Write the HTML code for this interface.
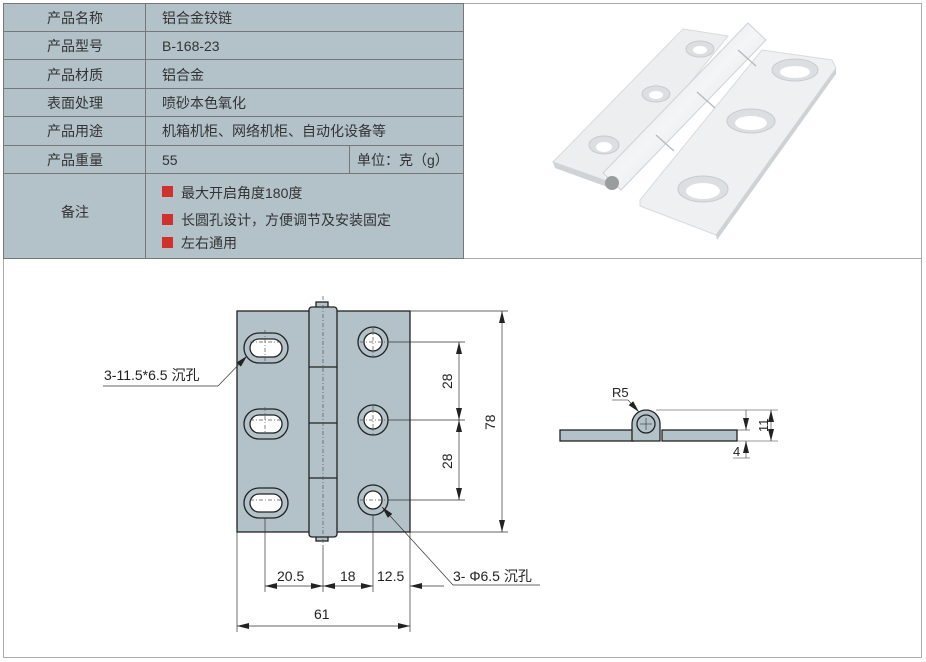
<!DOCTYPE html>
<html><head><meta charset="utf-8"><style>
body{margin:0;background:#fff;width:926px;height:662px;overflow:hidden;font-family:"Liberation Sans","Noto Sans CJK SC",sans-serif}
svg{position:absolute;left:0;top:0}
</style></head><body>
<svg width="926" height="662" viewBox="0 0 926 662" font-family="Liberation Sans, Noto Sans CJK SC, sans-serif">
<defs>
<marker id="a" markerWidth="12" markerHeight="6" refX="12" refY="3" orient="auto" markerUnits="userSpaceOnUse"><path d="M0,0 L12,3 L0,6Z" fill="#222"/></marker>
<marker id="b" markerWidth="12" markerHeight="6" refX="0" refY="3" orient="auto" markerUnits="userSpaceOnUse"><path d="M12,0 L0,3 L12,6Z" fill="#222"/></marker>
<linearGradient id="pg" x1="0" y1="0" x2="1" y2="1"><stop offset="0" stop-color="#d4d7da"/><stop offset="0.5" stop-color="#f4f5f6"/><stop offset="1" stop-color="#c9ccd0"/></linearGradient>
</defs>
<rect x="3.5" y="3.5" width="918" height="654" fill="none" stroke="#aaa"/>
<line x1="3" y1="258.5" x2="922" y2="258.5" stroke="#aaa"/>
<rect x="3.5" y="3.5" width="460" height="255" fill="#b3c1c9" stroke="#777"/>
<g stroke="#777" stroke-width="1">
<line x1="145.5" y1="3" x2="145.5" y2="258"/>
<line x1="3" y1="31.5" x2="463" y2="31.5"/>
<line x1="3" y1="59.5" x2="463" y2="59.5"/>
<line x1="3" y1="88.5" x2="463" y2="88.5"/>
<line x1="3" y1="116.5" x2="463" y2="116.5"/>
<line x1="3" y1="145.5" x2="463" y2="145.5"/>
<line x1="3" y1="173.5" x2="463" y2="173.5"/>
<line x1="349.5" y1="145" x2="349.5" y2="173"/>
</g>
<g font-size="14" fill="#333" text-anchor="middle">
<text x="75" y="23">产品名称</text><text x="75" y="51">产品型号</text><text x="75" y="80">产品材质</text>
<text x="75" y="108">表面处理</text><text x="75" y="136">产品用途</text><text x="75" y="165">产品重量</text>
<text x="75" y="217">备注</text>
</g>
<g font-size="14" fill="#333">
<text x="162" y="23">铝合金铰链</text><text x="162" y="51">B-168-23</text><text x="162" y="80">铝合金</text>
<text x="162" y="108">喷砂本色氧化</text><text x="162" y="136">机箱机柜、网络机柜、自动化设备等</text>
<text x="162" y="165">55</text><text x="357" y="165">单位：克（g）</text>
<text x="181" y="198">最大开启角度180度</text><text x="181" y="225">长圆孔设计，方便调节及安装固定</text><text x="181" y="248">左右通用</text>
</g>
<rect x="162" y="186" width="11" height="11" fill="#d0312d"/>
<rect x="162" y="214" width="11" height="11" fill="#d0312d"/>
<rect x="162" y="237" width="11" height="11" fill="#d0312d"/>
<!-- photo -->
<polygon points="553,162 683,29 728,36 610,182" fill="#eceef0" stroke="#d8dadc"/>
<polygon points="553,162 610,182 610,188 555,168" fill="#d0d3d6"/>
<polygon points="640,200 762,50 832,60 836,68 716,235 640,206" fill="#eef0f2" stroke="#d8dadc"/>
<polygon points="716,235 836,68 836,74 717,240" fill="#cfd2d5"/>
<polygon points="748,23 766,40 621,190 603,173" fill="url(#pg)" stroke="#cfd2d5"/>
<g stroke="#b8bcc0" stroke-width="1.5"><line x1="738" y1="50" x2="756" y2="66"/><line x1="697" y1="92" x2="715" y2="108"/><line x1="656" y1="135" x2="674" y2="151"/></g>
<circle cx="612" cy="183" r="7" fill="#9a9da0"/>
<g fill="#dcdfe2" stroke="#c8cbce"><ellipse cx="700" cy="49" rx="14" ry="8"/><ellipse cx="656" cy="94" rx="14" ry="8"/><ellipse cx="604" cy="145" rx="15" ry="9"/>
<ellipse cx="795" cy="70" rx="23" ry="11"/><ellipse cx="751" cy="121" rx="24" ry="12"/><ellipse cx="703" cy="189" rx="25" ry="13"/></g>
<g fill="#fff"><ellipse cx="700" cy="50" rx="7" ry="4"/><ellipse cx="656" cy="95" rx="7" ry="4"/><ellipse cx="604" cy="147" rx="8" ry="5"/>
<ellipse cx="795" cy="72" rx="15" ry="6"/><ellipse cx="751" cy="123" rx="16" ry="7"/><ellipse cx="703" cy="191" rx="17" ry="8"/></g>
<!-- front drawing -->
<g stroke="#222" stroke-width="1.3" fill="#b3c1c9">
<rect x="237" y="311" width="173" height="221"/>
<rect x="316" y="302" width="12" height="8"/>
<rect x="316" y="533" width="12" height="8"/>
<rect x="309" y="307" width="28" height="230" rx="3"/>
<line x1="309" y1="367" x2="337" y2="367"/><line x1="309" y1="423" x2="337" y2="423"/><line x1="309" y1="478" x2="337" y2="478"/>
</g>
<g stroke="#222" stroke-width="1.3">
<rect x="244" y="333" width="44" height="30" rx="15" fill="#b3c1c9"/><rect x="250" y="339" width="32" height="18" rx="9" fill="#fff"/>
<rect x="244" y="409" width="44" height="30" rx="15" fill="#b3c1c9"/><rect x="250" y="415" width="32" height="18" rx="9" fill="#fff"/>
<rect x="244" y="488" width="44" height="30" rx="15" fill="#b3c1c9"/><rect x="250" y="494" width="32" height="18" rx="9" fill="#fff"/>
<circle cx="373" cy="342" r="15" fill="#b3c1c9"/><circle cx="373" cy="342" r="9" fill="#fff"/>
<circle cx="373" cy="420" r="15" fill="#b3c1c9"/><circle cx="373" cy="420" r="9" fill="#fff"/>
<circle cx="373" cy="500" r="15" fill="#b3c1c9"/><circle cx="373" cy="500" r="9" fill="#fff"/>
</g>
<g stroke="#555" stroke-width="0.7" stroke-dasharray="4,2,1,2" fill="none">
<line x1="323" y1="296" x2="323" y2="545"/>
<line x1="250" y1="342" x2="282" y2="342"/><line x1="250" y1="420" x2="282" y2="420"/><line x1="250" y1="500" x2="282" y2="500"/>
<line x1="265" y1="330" x2="265" y2="366"/><line x1="265" y1="407" x2="265" y2="433"/>
<line x1="360" y1="342" x2="386" y2="342"/><line x1="373" y1="328" x2="373" y2="356"/>
<line x1="360" y1="420" x2="386" y2="420"/><line x1="373" y1="406" x2="373" y2="434"/>
<line x1="360" y1="500" x2="386" y2="500"/>
</g>
<g stroke="#333" stroke-width="0.7" fill="none">
<line x1="388" y1="342" x2="465" y2="342"/><line x1="388" y1="420" x2="465" y2="420"/><line x1="388" y1="500" x2="465" y2="500"/>
<line x1="410" y1="311" x2="508" y2="311"/><line x1="410" y1="532" x2="508" y2="532"/>
<line x1="459" y1="342" x2="459" y2="420" marker-start="url(#b)" marker-end="url(#a)"/>
<line x1="459" y1="420" x2="459" y2="500" marker-start="url(#b)" marker-end="url(#a)"/>
<line x1="502" y1="311" x2="502" y2="532" marker-start="url(#b)" marker-end="url(#a)"/>
<line x1="237" y1="532" x2="237" y2="632"/><line x1="410" y1="532" x2="410" y2="632"/>
<line x1="265" y1="518" x2="265" y2="592"/><line x1="373" y1="515" x2="373" y2="592"/><line x1="323" y1="545" x2="323" y2="592"/>
<line x1="265" y1="586" x2="323" y2="586" marker-start="url(#b)" marker-end="url(#a)"/>
<line x1="323" y1="586" x2="373" y2="586" marker-start="url(#b)" marker-end="url(#a)"/>
<line x1="410" y1="586" x2="444" y2="586" marker-start="url(#b)"/>
<line x1="237" y1="626" x2="410" y2="626" marker-start="url(#b)" marker-end="url(#a)"/>
<line x1="103" y1="386" x2="218" y2="386"/><line x1="218" y1="386" x2="247" y2="356" marker-end="url(#a)"/>
<line x1="540" y1="585" x2="453" y2="585"/><line x1="453" y1="585" x2="382" y2="507" marker-end="url(#a)"/>
</g>
<g font-size="14" fill="#222">
<text x="104" y="380">3-11.5*6.5 沉孔</text>
<text x="453" y="581">3- Φ6.5 沉孔</text>
<text x="277" y="581">20.5</text><text x="340" y="581">18</text><text x="377" y="581">12.5</text>
<text x="314" y="619">61</text>
<text transform="translate(452,389) rotate(-90)">28</text>
<text transform="translate(452,469) rotate(-90)">28</text>
<text transform="translate(495,430) rotate(-90)">78</text>
</g>
<g stroke="#222" stroke-width="1.3" fill="#b3c1c9">
<rect x="560" y="430" width="74" height="11"/>
<rect x="662" y="430" width="75" height="11"/>
<path d="M632,441 L632,424 A14,14 0 0 1 660,424 L660,441Z"/>
<circle cx="646" cy="424" r="9"/>
</g>
<g stroke="#333" stroke-width="0.6" fill="none">
<line x1="640" y1="424" x2="652" y2="424"/><line x1="646" y1="418" x2="646" y2="430"/>
<line x1="612" y1="400" x2="628" y2="400"/><line x1="628" y1="400" x2="639" y2="412" marker-end="url(#a)"/>
<line x1="656" y1="410" x2="778" y2="410"/><line x1="737" y1="441" x2="778" y2="441"/>
<line x1="771" y1="410" x2="771" y2="441" marker-start="url(#b)" marker-end="url(#a)"/>
<line x1="746" y1="410" x2="746" y2="430" marker-end="url(#a)"/>
<line x1="746" y1="458" x2="746" y2="441" marker-end="url(#a)"/>
<line x1="737" y1="430" x2="750" y2="430"/>
<line x1="733" y1="458" x2="750" y2="458"/>
</g>
<g font-size="13" fill="#222">
<text x="612" y="397">R5</text>
<text x="733" y="456">4</text>
<text transform="translate(768,432) rotate(-90)">11</text>
</g>
</svg>
</body></html>
